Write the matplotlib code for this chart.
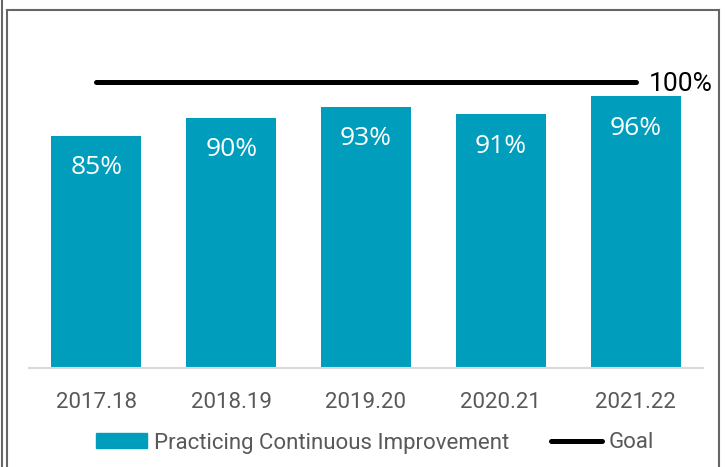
import matplotlib
matplotlib.use("Agg")
from matplotlib import pyplot as plt
from matplotlib.lines import Line2D
import numpy as np

years = ["2017.18", "2018.19", "2019.20", "2020.21", "2021.22"]
practicing = [85, 90, 93, 91, 96]
goal = [100, 100, 100, 100, 100]

plt.rcParams["font.family"] = ["Roboto", "DejaVu Sans"]

W, H = 726, 467
fig = plt.figure(figsize=(W/100, H/100), dpi=100)

# axes placed in pixel terms
ax = fig.add_axes([29/W, 1-368/H, (703-29)/W, (368-68)/H])

x = np.arange(len(years))
bars = ax.bar(x, practicing, width=0.667, color="#009DBD", zorder=2)
ax.plot(x, goal, color="black", lw=3.6, solid_capstyle="round", zorder=3)

for xi, v in zip(x, practicing):
    ax.annotate(f"{v}%", (xi, v), xytext=(0, -32), textcoords="offset pixels",
                ha="center", va="center", color="white", fontsize=19,
                family=["Open Sans", "DejaVu Sans"])

ax.annotate(f"{goal[-1]}%", (x[-1], goal[-1]), xytext=(13, -2), textcoords="offset pixels",
            ha="left", va="center", color="black", fontsize=19)

ax.set_xlim(-0.5, len(years)-0.5)
ax.set_ylim(20, 103.9)
ax.set_xticks(x, years)
ax.tick_params(axis="x", length=0, pad=17, labelsize=16, labelcolor="#595959")
ax.set_yticks([])
for s in ["top", "right", "left"]:
    ax.spines[s].set_visible(False)
ax.spines["bottom"].set_color("#D9D9D9")
ax.spines["bottom"].set_linewidth(1.5)

handles = [plt.Rectangle((0, 0), 1, 1, color="#009DBD"),
           Line2D([0], [0], color="black", lw=3.6, solid_capstyle="round")]
fig.legend(handles, ["Practicing Continuous Improvement", "Goal"], ncol=2,
           loc="center", bbox_to_anchor=(375/W, 1-443/H), frameon=False,
           fontsize=16, labelcolor="#595959", handlelength=2.3,
           handletextpad=0.3, columnspacing=1.9, handleheight=0.65)

# outer frame like the slide border
border = dict(color="#666666", lw=1.5, transform=None)
fig.add_artist(Line2D([7, 7], [0, H-10], **border))
fig.add_artist(Line2D([7, 719], [H-10, H-10], **border))
fig.add_artist(Line2D([719, 719], [0, H-10], **border))
fig.add_artist(Line2D([2, 2], [0, H], **border))

fig.savefig("out.png", dpi=100)
